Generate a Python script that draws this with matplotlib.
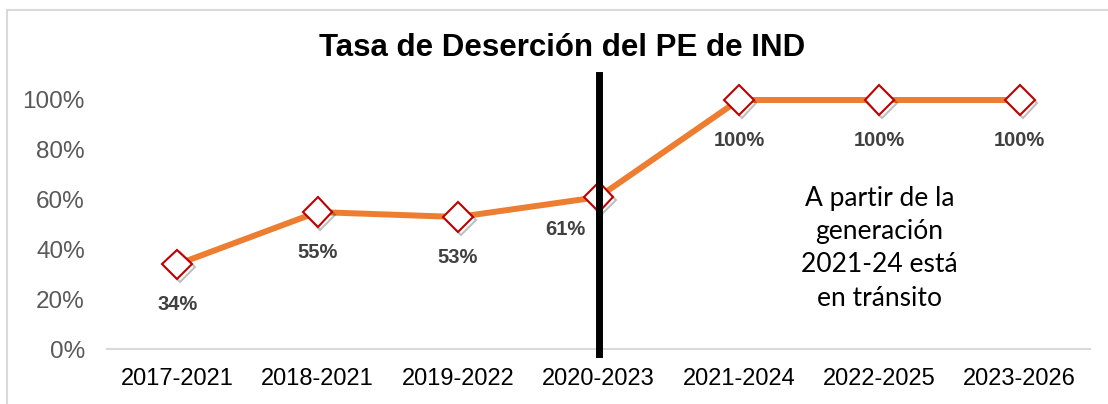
import matplotlib
matplotlib.use("Agg")
import matplotlib.pyplot as plt
import matplotlib.patheffects as pe
from matplotlib.patches import Rectangle

generaciones = ["2017-2021", "2018-2021", "2019-2022", "2020-2023",
                "2021-2024", "2022-2025", "2023-2026"]
desercion = [0.34, 0.55, 0.53, 0.61, 1.00, 1.00, 1.00]
etiquetas = ["34%", "55%", "53%", "61%", "100%", "100%", "100%"]
yticks = [0, 0.2, 0.4, 0.6, 0.8, 1.0]
ytick_labels = ["0%", "20%", "40%", "60%", "80%", "100%"]
titulo = "Tasa de Deserción del PE de IND"
nota = "A partir de la\ngeneración\n2021-24 está\nen tránsito"

W, H = 1108, 404
fig = plt.figure(figsize=(W / 100, H / 100), dpi=100)
fig.patch.set_facecolor("white")

# outer chart border (Excel style)
fig.patches.append(Rectangle((7 / W, -0.1), 1.2, 1 - 10 / H + 0.1, transform=fig.transFigure,
                             fill=False, edgecolor="#D9D9D9", linewidth=1.5))

ax = fig.add_axes([107 / W, 1 - 349 / H, (1090 - 107) / W, 249 / H])
x = list(range(len(generaciones)))

shadow = [pe.SimpleLineShadow(offset=(2, -2), shadow_color="#000000", alpha=0.25), pe.Normal()]
ax.plot(x, desercion, color="#ED7D31", linewidth=4.3, zorder=3, clip_on=False,
        solid_capstyle="round")
ax.plot(x, desercion, linestyle="none", marker="D", markersize=15, markerfacecolor="white",
        markeredgecolor="#C00000", markeredgewidth=1.5, zorder=4, clip_on=False,
        path_effects=shadow)

label_font = ["Liberation Sans Narrow", "Liberation Sans", "DejaVu Sans"]
for i, (xi, yi, lab) in enumerate(zip(x, desercion, etiquetas)):
    dx, dy = (0, -29) if i != 3 else (-24, -23)
    ax.annotate(lab, (xi, yi), xytext=(dx, dy), textcoords="offset points",
                ha="center", va="center", fontsize=14.5, fontweight="bold",
                color="#404040", family=label_font)

# vertical separator
ax.plot([3, 3], [-0.02, 1.1], color="black", linewidth=5, clip_on=False, zorder=5)

ax.text(5, 0.405, nota, ha="center", va="center", fontsize=19, color="black",
        family=["Lato", "DejaVu Sans"], linespacing=1.42)

ax.set_xlim(-0.5, 6.5)
ax.set_ylim(0, 1)
ax.set_xticks(x)
ax.set_xticklabels(generaciones, fontsize=17, family=["Liberation Sans", "DejaVu Sans"])
ax.set_yticks(yticks)
ax.set_yticklabels(ytick_labels, fontsize=17.5, color="#595959",
                   family=["Liberation Sans", "DejaVu Sans"])
ax.tick_params(axis="both", length=0)
ax.tick_params(axis="y", pad=16)
ax.tick_params(axis="x", pad=14)
for side in ["top", "right", "left"]:
    ax.spines[side].set_visible(False)
ax.spines["bottom"].set_color("#D9D9D9")
ax.spines["bottom"].set_linewidth(1.5)

fig.text(562 / W, 1 - 48 / H, titulo, ha="center", va="center", fontsize=22.5,
         fontweight="bold", family=["Liberation Sans", "DejaVu Sans"])

fig.savefig("out.png", dpi=100)
